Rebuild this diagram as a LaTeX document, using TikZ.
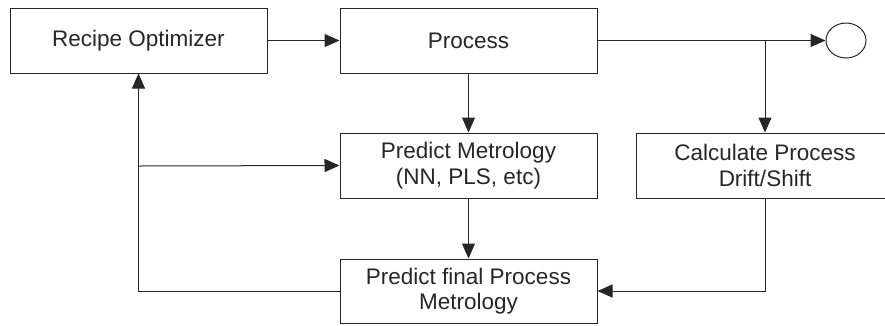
\documentclass[tikz,border=0pt]{standalone}
\usepackage{fontspec}
\setmainfont{Liberation Sans}
\usetikzlibrary{arrows.meta,shapes.geometric}
\begin{document}
\begin{tikzpicture}[x=1pt,y=-1pt,
  blk/.style={draw=black!85, line width=1pt, rectangle, minimum width=257pt,
    minimum height=65pt, inner sep=0pt, align=center, text=black!85,
    font=\fontsize{22.5}{25.5}\selectfont},
  conn/.style={draw=black!85, line width=1pt},
  arr/.style={conn, -{Triangle[length=15pt,width=13pt]}}
]
\useasboundingbox (0,0) rectangle (885,325);
\clip (0,0) rectangle (885,325);

% blocks
\node[blk] (rec)  at (138.5,40.5)  {Recipe Optimizer};
\node[blk] (proc) at (468.5,40.5)  {Process};
\node[draw=black!85, line width=1pt, ellipse, minimum width=40pt,
      minimum height=35pt, inner sep=0pt] (out) at (846,40.5) {};
\node[blk] (pm)   at (468.5,165.5) {Predict Metrology\\(NN, PLS, etc)};
\node[blk, minimum width=258pt] (calc) at (765,165.5) {Calculate Process\\Drift/Shift};
\node[blk, minimum height=64pt] (pf) at (468.5,291) {Predict final Process\\Metrology};

% junction points
\coordinate (split) at (765,40.5);
\coordinate (fb) at (139,166);

% connectors
\draw[arr] (rec.east) -- (proc.west);
\draw[arr] (proc.east) -- (out.west);
\draw[arr] (split) -- (calc.north);
\draw[arr] (proc.south) -- (pm.north);
\draw[arr] (pm.south) -- (pf.north);
\draw[arr] (calc.south) |- (pf.east);
\draw[arr] (pf.west) -| (rec.south);
\draw[arr] (fb) -- (pm.west);
\end{tikzpicture}
\end{document}
